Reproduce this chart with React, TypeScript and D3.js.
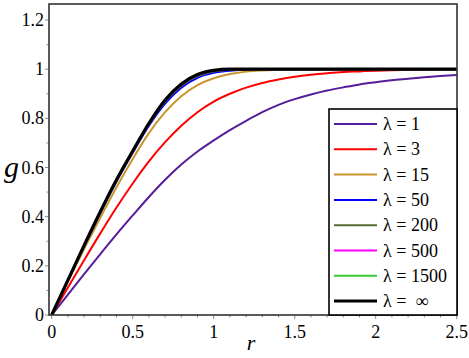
import * as d3 from 'd3';

// radial grid
const rVals = [0, 0.1, 0.2, 0.3, 0.4, 0.5, 0.6, 0.7, 0.8, 0.9, 1.0, 1.1, 1.2, 1.3, 1.4, 1.5, 1.6, 1.7, 1.8, 1.9, 2.0, 2.1, 2.2, 2.3, 2.4, 2.5];

const gLam1 = [0, 0.083, 0.166, 0.248, 0.328, 0.405, 0.48, 0.55, 0.612, 0.665, 0.71, 0.752, 0.79, 0.825, 0.855, 0.878, 0.897, 0.913, 0.926, 0.938, 0.947, 0.955, 0.961, 0.967, 0.972, 0.976];
const gLam3 = [0, 0.112, 0.223, 0.332, 0.437, 0.535, 0.625, 0.703, 0.77, 0.825, 0.868, 0.9, 0.925, 0.944, 0.958, 0.969, 0.977, 0.983, 0.988, 0.991, 0.994, 0.996, 0.997, 0.998, 0.999, 0.999];
const gLam15 = [0, 0.135, 0.268, 0.395, 0.52, 0.635, 0.74, 0.825, 0.89, 0.935, 0.963, 0.98, 0.99, 0.995, 0.998, 1, 1, 1, 1, 1, 1, 1, 1, 1, 1, 1];
const gLam50 = [0, 0.14, 0.28, 0.415, 0.543, 0.66, 0.77, 0.86, 0.925, 0.965, 0.985, 0.994, 0.998, 1, 1, 1, 1, 1, 1, 1, 1, 1, 1, 1, 1, 1];
const gLam200 = [0, 0.141, 0.282, 0.418, 0.547, 0.664, 0.776, 0.868, 0.933, 0.972, 0.99, 0.997, 1, 1, 1, 1, 1, 1, 1, 1, 1, 1, 1, 1, 1, 1];
const gLam500 = [0, 0.142, 0.283, 0.419, 0.549, 0.666, 0.779, 0.872, 0.937, 0.976, 0.993, 0.999, 1, 1, 1, 1, 1, 1, 1, 1, 1, 1, 1, 1, 1, 1];
const gLam1500 = [0, 0.142, 0.283, 0.42, 0.55, 0.667, 0.78, 0.874, 0.939, 0.977, 0.994, 1, 1, 1, 1, 1, 1, 1, 1, 1, 1, 1, 1, 1, 1, 1];
const gLamInf = [0, 0.142, 0.283, 0.42, 0.55, 0.667, 0.78, 0.875, 0.94, 0.978, 0.995, 1, 1, 1, 1, 1, 1, 1, 1, 1, 1, 1, 1, 1, 1, 1];

const labels = ['λ = 1', 'λ = 3', 'λ = 15', 'λ = 50', 'λ = 200', 'λ = 500', 'λ = 1500', 'λ =  ∞'];
const colors = ['#561c9a', '#ff0000', '#c8952c', '#0000ff', '#566a32', '#ff00ff', '#35cc35', '#000000'];

const xTicks = [0, 0.5, 1, 1.5, 2, 2.5];
const yTicks = [0, 0.2, 0.4, 0.6, 0.8, 1, 1.2];

const series = [gLam1, gLam3, gLam15, gLam50, gLam200, gLam500, gLam1500, gLamInf];

const width = 469;
const height = 358;
const frame = { left: 49, right: 457, top: 4, bottom: 315 };
const font = '"Liberation Serif", "Times New Roman", Lato, sans-serif';

export default function App() {
  const x = d3.scaleLinear().domain([0, 2.5]).range([51.7, 456.7]);
  const y = d3.scaleLinear().domain([0, 1.2]).range([315, 20]);

  const line = d3
    .line<number>()
    .x((_, i) => x(rVals[i]))
    .y((d) => y(d))
    .curve(d3.curveMonotoneX);

  const xMinor = d3.range(0, 26).map((i) => i / 10);
  const yMinor = d3.range(0, 13).map((i) => i / 10);

  const legend = { x: 329, y: 109, w: 128, h: 206, row0: 124, step: 25.3 };

  return (
    <svg
      width={width}
      height={height}
      style={{ position: 'absolute', left: 0, top: 0, background: '#fff' }}
      fontFamily={font}
    >
      <defs>
        <clipPath id="clip">
          <rect x={frame.left} y={frame.top} width={frame.right - frame.left} height={frame.bottom - frame.top} />
        </clipPath>
      </defs>

      {/* curves */}
      <g clipPath="url(#clip)">
        {series.map((s, i) => (
          <path
            key={labels[i]}
            d={line(s) || ''}
            fill="none"
            stroke={colors[i]}
            strokeWidth={i === 7 ? 3.2 : 2}
            strokeLinejoin="round"
          />
        ))}
      </g>

      {/* ticks */}
      {xMinor.map((t, i) => (
        <line
          key={'xm' + i}
          x1={x(t)}
          x2={x(t)}
          y1={frame.bottom}
          y2={frame.bottom + (i % 5 === 0 ? 4 : 2.5)}
          stroke="#888"
          strokeWidth={1}
        />
      ))}
      {yMinor.map((t, i) => (
        <line
          key={'ym' + i}
          x1={frame.left}
          x2={frame.left - (i % 2 === 0 ? 4 : 2.5)}
          y1={y(t)}
          y2={y(t)}
          stroke="#888"
          strokeWidth={1}
        />
      ))}

      {/* frame */}
      <rect
        x={frame.left}
        y={frame.top}
        width={frame.right - frame.left}
        height={frame.bottom - frame.top}
        fill="none"
        stroke="#333"
        strokeWidth={1.6}
      />

      {/* tick labels */}
      {xTicks.map((t) => (
        <text key={'xl' + t} x={x(t)} y={338} fontSize={18} textAnchor="middle" fill="#000">
          {t}
        </text>
      ))}
      {yTicks.map((t) => (
        <text key={'yl' + t} x={44} y={y(t) + 6} fontSize={18} textAnchor="end" fill="#000">
          {t}
        </text>
      ))}

      {/* axis titles */}
      <text x={251} y={350} fontSize={22} fontStyle="italic" textAnchor="middle">
        r
      </text>
      <text x={4} y={177} fontSize={30} fontStyle="italic">
        g
      </text>

      {/* legend */}
      <rect x={legend.x} y={legend.y} width={legend.w} height={legend.h} fill="#fff" stroke="#000" strokeWidth={1.6} />
      {labels.map((lab, i) => {
        const cy = legend.row0 + legend.step * i;
        return (
          <g key={'lg' + i}>
            <line x1={334} x2={377} y1={cy} y2={cy} stroke={colors[i]} strokeWidth={i === 7 ? 3 : 2} />
            <text x={383} y={cy + 6} fontSize={18} fill="#000" style={{ whiteSpace: 'pre' }}>
              {lab}
            </text>
          </g>
        );
      })}
    </svg>
  );
}
